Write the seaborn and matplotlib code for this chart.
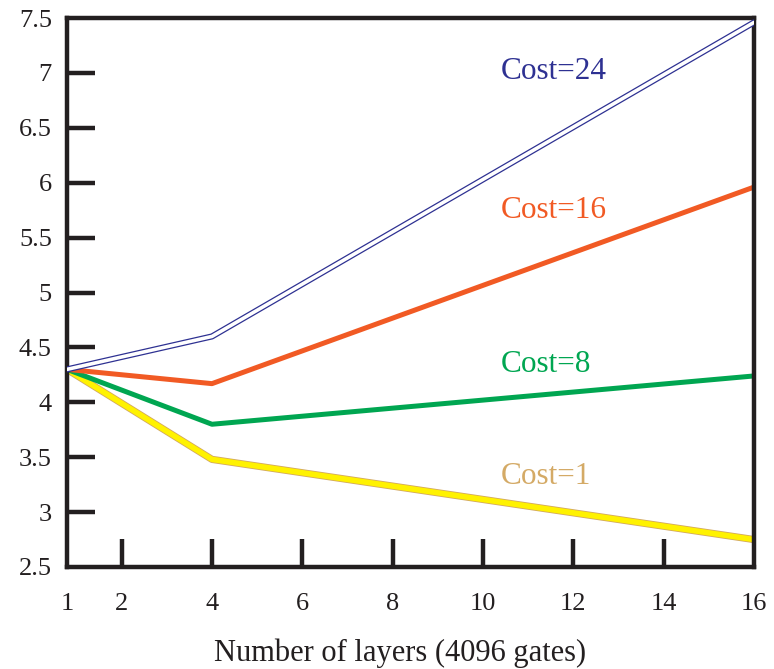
import numpy as np
import pandas as pd
import matplotlib
matplotlib.use("Agg")
import matplotlib.pyplot as plt
import matplotlib.patheffects as pe
import seaborn as sns

layers = [1, 4, 16]
cost24 = [4.30, 4.60, 7.46]
cost16 = [4.30, 4.17, 5.96]
cost8 = [4.30, 3.80, 4.24]
cost1 = [4.30, 3.48, 2.75]
series_names = ["Cost=24", "Cost=16", "Cost=8", "Cost=1"]
x_ticks = [1, 2, 4, 6, 8, 10, 12, 14, 16]
y_ticks = [2.5, 3, 3.5, 4, 4.5, 5, 5.5, 6, 6.5, 7, 7.5]

sns.set_theme(style="white")
plt.rcParams['font.family'] = ['Liberation Serif', 'DejaVu Serif']

df = pd.DataFrame({
    "layers": layers * 4,
    "value": cost24 + cost16 + cost8 + cost1,
    "series": sum([[n] * 3 for n in series_names], []),
})

fig = plt.figure(figsize=(7.74, 6.69), dpi=100)
ax = fig.add_axes([0.0866, 0.1525, 0.8874, 0.8205])

# piecewise scale: 1 sits at the left edge, linear from 2 on
def fwd(x):
    x = np.asarray(x, dtype=float)
    return np.where(x >= 2, x, 0.79 + (x - 1) * (2 - 0.79))

def inv(u):
    u = np.asarray(u, dtype=float)
    return np.where(u >= 2, u, 1 + (u - 0.79) / (2 - 0.79))

ax.set_xscale("function", functions=(fwd, inv))

navy = "#2e3192"
orange = "#f15a24"
green = "#00a651"
yellow = "#fff200"
tan = "#d2a860"
palette = {"Cost=24": "white", "Cost=16": orange, "Cost=8": green, "Cost=1": yellow}

sns.lineplot(data=df, x="layers", y="value", hue="series", palette=palette,
             hue_order=["Cost=1", "Cost=8", "Cost=16", "Cost=24"],
             ax=ax, legend=False, linewidth=3.6, estimator=None, sort=False)

for line in ax.get_lines():
    c = matplotlib.colors.to_hex(line.get_color())
    if c == "#ffffff":
        line.set_linewidth(2.6)
        line.set_path_effects([pe.Stroke(linewidth=4.4, foreground=navy), pe.Normal()])
        line.set_zorder(5)
    elif c == yellow:
        line.set_linewidth(4.0)
        line.set_path_effects([pe.Stroke(linewidth=5.2, foreground=tan), pe.Normal()])

ax.set_xlim(1, 16)
ax.set_ylim(2.5, 7.5)
ax.set_xticks(x_ticks)
ax.set_xticklabels([str(t) for t in x_ticks])
ax.set_yticks(y_ticks)
ax.set_yticklabels([("%g" % t) for t in y_ticks])

ax.tick_params(axis="both", direction="in", length=20, width=3.2, color="#231f20",
               labelsize=19, labelcolor="#231f20", bottom=True, left=True,
               top=False, right=False)
ax.tick_params(axis="x", pad=19)
ax.tick_params(axis="y", pad=11)
for t in [ax.xaxis.get_major_ticks()[0], ax.xaxis.get_major_ticks()[-1],
          ax.yaxis.get_major_ticks()[0], ax.yaxis.get_major_ticks()[-1]]:
    t.tick1line.set_visible(False)

for s in ax.spines.values():
    s.set_visible(True)
    s.set_linewidth(3.2)
    s.set_color("#231f20")

ax.set_xlabel("Number of layers (4096 gates)", fontsize=22, color="#231f20")
ax.xaxis.set_label_coords(0.485, -0.158)
ax.xaxis.label.set_va("center")
ax.set_ylabel("")

ax.text(10.4, 7.01, "Cost=24", color=navy, fontsize=22.5, ha="left", va="center")
ax.text(10.4, 5.75, "Cost=16", color=orange, fontsize=22.5, ha="left", va="center")
ax.text(10.4, 4.34, "Cost=8", color=green, fontsize=22.5, ha="left", va="center")
ax.text(10.4, 3.32, "Cost=1", color="#d4aa66", fontsize=22.5, ha="left", va="center")

fig.savefig("out.png", dpi=100)
